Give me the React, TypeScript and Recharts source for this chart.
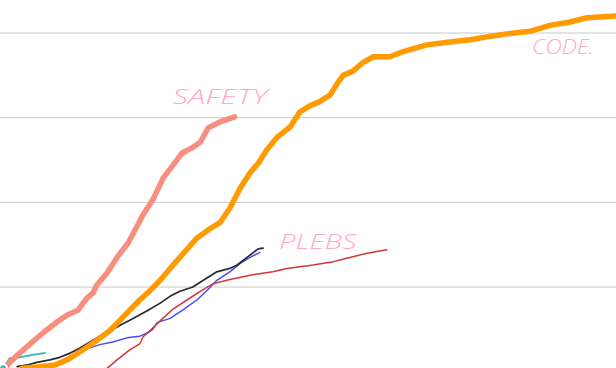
import React from 'react'
import {
  LineChart,
  Line,
  XAxis,
  YAxis,
  CartesianGrid,
  ReferenceDot,
} from 'recharts'

// each series: [week, count]
const codeSeries: [number, number][] = [
  [3.6, 4], [6.5, 6], [8.9, 8], [10.9, 14], [13.5, 26], [15.7, 37], [17.9, 49],
  [19.5, 61], [21.1, 73], [22.7, 85], [24.4, 96], [26.0, 108], [28.1, 126],
  [30.4, 145], [32.0, 158], [34.1, 169], [35.7, 176], [37.3, 193], [39.0, 217],
  [40.6, 235], [41.9, 246], [43.3, 262], [45.0, 277], [47.1, 289], [48.7, 307],
  [50.3, 314], [51.9, 319], [53.6, 327], [54.7, 340], [55.7, 350], [57.3, 355],
  [58.9, 365], [60.6, 372], [63.3, 372], [65.4, 378], [69.3, 386], [72.6, 389],
  [76.3, 392], [79.5, 396], [82.3, 399], [86.0, 402], [89.3, 409], [92.5, 413],
  [95.3, 418], [100, 420],
]

const safetySeries: [number, number][] = [
  [0.8, 4], [1.6, 11], [3.2, 22], [5.4, 36], [7.0, 46], [9.3, 59], [10.9, 67],
  [12.7, 73], [14.1, 87], [15.1, 93], [15.7, 102], [17.4, 117], [19.0, 135],
  [20.8, 152], [21.9, 167], [23.2, 185], [24.8, 203], [26.5, 229], [28.1, 244],
  [29.5, 258], [31.3, 265], [32.5, 271], [33.8, 288], [35.7, 295], [38.1, 301],
]

const blackSeries: [number, number][] = [
  [2.8, 6], [4.4, 8], [6.0, 11], [8.1, 14], [9.7, 17], [11.4, 22], [13.0, 28],
  [14.6, 35], [16.2, 42], [17.9, 48], [19.5, 55], [21.6, 63], [23.9, 72],
  [26.0, 81], [27.6, 89], [29.2, 95], [31.3, 100], [33.0, 108], [35.2, 118],
  [37.3, 122], [38.5, 126], [40.1, 135], [41.9, 145], [42.7, 146],
]

const blueSeries: [number, number][] = [
  [7.0, 4], [9.7, 11], [11.9, 20], [14.1, 27], [16.2, 32], [18.3, 35],
  [20.6, 40], [22.7, 42], [24.0, 46], [24.8, 50], [25.5, 58], [27.6, 63],
  [29.7, 73], [32.0, 85], [33.6, 96], [35.2, 108], [37.3, 118], [39.0, 128],
  [40.6, 135], [42.2, 141],
]

const plebsSeries: [number, number][] = [
  [17.4, 4], [19.0, 14], [21.1, 26], [22.7, 33], [23.2, 41], [24.4, 49],
  [26.0, 60], [28.1, 74], [30.4, 85], [32.5, 95], [34.6, 104], [37.3, 109],
  [40.6, 114], [44.3, 118], [46.6, 122], [50.8, 126], [54.1, 130], [56.3, 134],
  [59.6, 140], [62.8, 144],
]

const tealSeries: [number, number][] = [
  [0.5, 4], [1.6, 16], [3.2, 17], [5.4, 20], [7.3, 22],
]

const gridTicks = [100, 200, 300, 400]

// hand-written notes: [text, week, count, width]
const notes: [string, number, number, number][] = [
  ['SAFETY', 35.7, 324, 95],
  ['PLEBS', 51.6, 153, 77],
  ['CODE.', 91.4, 383, 62],
]

const toRows = (s: [number, number][]) => s.map(([x, y]) => ({ x, y }))

const Note = (text: string, width: number) => (props: any) => (
  <text
    x={props.cx}
    y={props.cy + 7}
    textAnchor="middle"
    textLength={width}
    lengthAdjust="spacingAndGlyphs"
    fill="#ffa9c8"
    fontFamily="'Open Sans', sans-serif"
    fontStyle="italic"
    fontWeight={300}
    fontSize={21}
  >
    {text}
  </text>
)

const lineProps = {
  dataKey: 'y',
  dot: false,
  isAnimationActive: false,
  strokeLinecap: 'round' as const,
  strokeLinejoin: 'round' as const,
}

export default function App() {
  return (
    <div style={{ width: 616, height: 368 }}>
      <style>{'body{margin:0;overflow:hidden}'}</style>
      <LineChart
        width={616}
        height={368}
        margin={{ top: 0, right: 0, bottom: 0, left: 0 }}
      >
        <CartesianGrid
          vertical={false}
          stroke="#c8c8c8"
          horizontalValues={gridTicks}
        />
        <XAxis type="number" dataKey="x" domain={[0, 100]} hide />
        <YAxis
          type="number"
          domain={[4.4, 439]}
          ticks={gridTicks}
          allowDataOverflow
          hide
        />
        <Line {...lineProps} data={toRows(blueSeries)} stroke="#4a4aff" strokeWidth={1.5} />
        <Line {...lineProps} data={toRows(plebsSeries)} stroke="#d03838" strokeWidth={1.5} />
        <Line {...lineProps} data={toRows(blackSeries)} stroke="#2a2a2a" strokeWidth={1.7} />
        <Line {...lineProps} data={toRows(tealSeries)} stroke="#44bcbc" strokeWidth={2} />
        <Line {...lineProps} data={toRows(safetySeries)} stroke="#fa8e7e" strokeWidth={5.5} />
        <Line {...lineProps} data={toRows(codeSeries)} stroke="#ff9a00" strokeWidth={5.5} />
        {notes.map(([text, x, y, w]) => (
          <ReferenceDot key={text} x={x} y={y} r={0} shape={Note(text, w)} />
        ))}
      </LineChart>
    </div>
  )
}
